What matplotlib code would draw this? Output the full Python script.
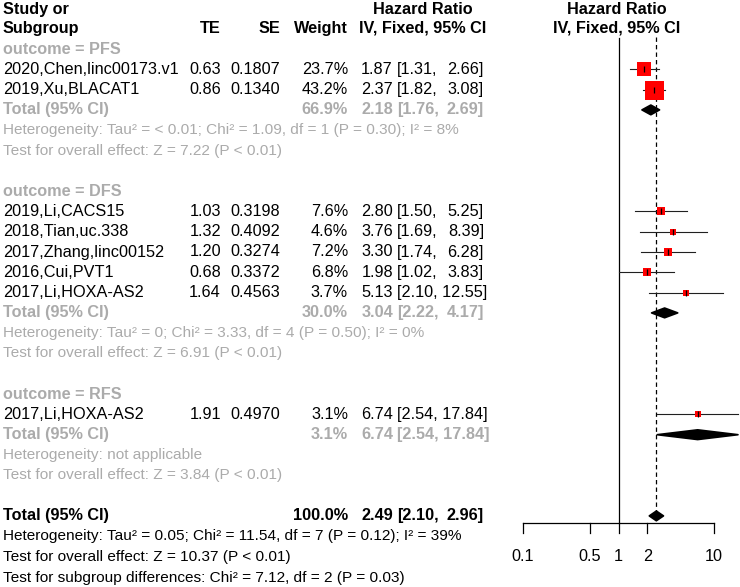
import numpy as np
import matplotlib
matplotlib.use("Agg")
import matplotlib.pyplot as plt

plt.rcParams['font.family'] = ['Liberation Sans', 'DejaVu Sans']

# study level data
studies = ["2020,Chen,linc00173.v1", "2019,Xu,BLACAT1", "2019,Li,CACS15", "2018,Tian,uc.338",
           "2017,Zhang,linc00152", "2016,Cui,PVT1", "2017,Li,HOXA-AS2", "2017,Li,HOXA-AS2"]
group = [0, 0, 1, 1, 1, 1, 1, 2]
te = [0.63, 0.86, 1.03, 1.32, 1.20, 0.68, 1.64, 1.91]
se = [0.1807, 0.1340, 0.3198, 0.4092, 0.3274, 0.3372, 0.4563, 0.4970]
weight = [23.7, 43.2, 7.6, 4.6, 7.2, 6.8, 3.7, 3.1]
hr = [1.87, 2.37, 2.80, 3.76, 3.30, 1.98, 5.13, 6.74]
hr_lo = [1.31, 1.82, 1.50, 1.69, 1.74, 1.02, 2.10, 2.54]
hr_hi = [2.66, 3.08, 5.25, 8.39, 6.28, 3.83, 12.55, 17.84]

# subgroups
sub_names = ["PFS", "DFS", "RFS"]
sub_weight = [66.9, 30.0, 3.1]
sub_hr = [2.18, 3.04, 6.74]
sub_lo = [1.76, 2.22, 2.54]
sub_hi = [2.69, 4.17, 17.84]
sub_het = ["Heterogeneity: Tau² = < 0.01; Chi² = 1.09, df = 1 (P = 0.30); I² = 8%",
           "Heterogeneity: Tau² = 0; Chi² = 3.33, df = 4 (P = 0.50); I² = 0%",
           "Heterogeneity: not applicable"]
sub_test = ["Test for overall effect: Z = 7.22 (P < 0.01)",
            "Test for overall effect: Z = 6.91 (P < 0.01)",
            "Test for overall effect: Z = 3.84 (P < 0.01)"]

# overall
tot_weight = 100.0
tot_hr, tot_lo, tot_hi = 2.49, 2.10, 2.96
tot_lines = ["Heterogeneity: Tau² = 0.05; Chi² = 11.54, df = 7 (P = 0.12); I² = 39%",
             "Test for overall effect: Z = 10.37 (P < 0.01)",
             "Test for subgroup differences: Chi² = 7.12, df = 2 (P = 0.03)"]

xticks = [0.1, 0.5, 1, 2, 10]
xticklabels = ["0.1", "0.5", "1", "2", "10"]

GREY = '#ababab'
FS = 11.7
FS2 = 11.1

# row layout
r = 0
study_row = {}
sub_row = {}
for g in range(3):
    sub_row[g] = r; r += 1
    for i in range(len(studies)):
        if group[i] == g:
            study_row[i] = r; r += 1
    r += 4  # total, het, test, blank
tot_row = r

fig = plt.figure(figsize=(7.4, 5.87), dpi=100)
ylim = ((587 - 49) / 20.3, -49 / 20.3)
tax = fig.add_axes([0, 0, 1, 1])
tax.set_xlim(0, 740); tax.set_ylim(*ylim); tax.axis('off')

# column positions (px)
X_STUDY, X_TE, X_SE, X_W, X_EST, X_LO, X_HI = 3, 221, 280, 348, 393, 397, 484

def hr_text(y, est, lo, hi, **kw):
    tax.text(X_EST, y, "%.2f" % est, ha='right', va='center', **kw)
    if hi >= 10:
        tax.text(X_LO, y, "[%.2f, %.2f]" % (lo, hi), ha='left', va='center', **kw)
    else:
        tax.text(X_LO, y, "[%.2f," % lo, ha='left', va='center', **kw)
        tax.text(X_HI, y, "%.2f]" % hi, ha='right', va='center', **kw)

# headers
bold = dict(fontsize=FS, fontweight='bold')
tax.text(X_STUDY, -1.97, "Study or", ha='left', va='center', **bold)
tax.text(X_STUDY, -1.03, "Subgroup", ha='left', va='center', **bold)
tax.text(X_TE, -1.03, "TE", ha='right', va='center', **bold)
tax.text(X_SE, -1.03, "SE", ha='right', va='center', **bold)
tax.text(X_W, -1.03, "Weight", ha='right', va='center', **bold)
tax.text(423, -1.97, "Hazard Ratio", ha='center', va='center', **bold)
tax.text(423, -1.03, "IV, Fixed, 95% CI", ha='center', va='center', **bold)
tax.text(617, -1.97, "Hazard Ratio", ha='center', va='center', **bold)
tax.text(617, -1.03, "IV, Fixed, 95% CI", ha='center', va='center', **bold)

for g in range(3):
    y0 = sub_row[g]
    tax.text(X_STUDY, y0, "outcome = " + sub_names[g], ha='left', va='center',
             color=GREY, **bold)
    last = max(study_row[i] for i in study_row if group[i] == g)
    yt = last + 1
    tax.text(X_STUDY, yt, "Total (95% CI)", ha='left', va='center', color=GREY, **bold)
    tax.text(X_W, yt, "%.1f%%" % sub_weight[g], ha='right', va='center', color=GREY, **bold)
    hr_text(yt, sub_hr[g], sub_lo[g], sub_hi[g], color=GREY, **bold)
    tax.text(X_STUDY, yt + 1, sub_het[g], ha='left', va='center', color=GREY, fontsize=FS2)
    tax.text(X_STUDY, yt + 2, sub_test[g], ha='left', va='center', color=GREY, fontsize=FS2)

for i, y in study_row.items():
    tax.text(X_STUDY, y, studies[i], ha='left', va='center', fontsize=FS)
    tax.text(X_TE, y, "%.2f" % te[i], ha='right', va='center', fontsize=FS)
    tax.text(X_SE, y, "%.4f" % se[i], ha='right', va='center', fontsize=FS)
    tax.text(X_W, y, "%.1f%%" % weight[i], ha='right', va='center', fontsize=FS)
    hr_text(y, hr[i], hr_lo[i], hr_hi[i], fontsize=FS)

tax.text(X_STUDY, tot_row, "Total (95% CI)", ha='left', va='center', **bold)
tax.text(X_W, tot_row, "%.1f%%" % tot_weight, ha='right', va='center', **bold)
hr_text(tot_row, tot_hr, tot_lo, tot_hi, **bold)
tax.text(X_STUDY, tot_row + 1, tot_lines[0], ha='left', va='center', fontsize=FS2)
tax.text(X_STUDY, tot_row + 2, tot_lines[1], ha='left', va='center', fontsize=FS2)
tax.text(X_STUDY, tot_row + 3.05, tot_lines[2], ha='left', va='center', fontsize=FS2)

# forest panel
fax = fig.add_axes([500 / 740, 0, 240 / 740, 1])
fax.set_xscale('log')
fax.set_xlim(10 ** (-1 - 23 / 95.5), 10 ** (1 + 26 / 95.5))
fax.set_ylim(*ylim)
fax.axis('off')

axis_y = tot_row + 0.35
fax.plot([1, 1], [-0.55, axis_y], color='black', lw=0.9)
fax.plot([tot_hr, tot_hr], [-0.6, tot_row - 0.2], color='black', lw=0.9, ls=(0, (3.5, 2.5)))
fax.plot([xticks[0], xticks[-1]], [axis_y, axis_y], color='black', lw=0.9)
for t, lab in zip(xticks, xticklabels):
    fax.plot([t, t], [axis_y, axis_y + 0.5], color='black', lw=0.9)
    fax.text(t, tot_row + 2.0, lab, ha='center', va='center', fontsize=FS)

for i, y in study_row.items():
    fax.plot([hr_lo[i], hr_hi[i]], [y, y], color='#202020', lw=0.8)
    side_pt = 19 * np.sqrt(weight[i] / 43.2) * 0.72
    fax.scatter([hr[i]], [y], marker='s', s=side_pt ** 2, color='red', lw=0, zorder=3)
    fax.plot([hr[i]], [y], marker='|', ms=4, color='black', mew=0.9, zorder=4)

def diamond(y, est, lo, hi, h=0.24):
    fax.fill([lo, est, hi, est], [y, y - h, y, y + h], facecolor='black',
             edgecolor='black', lw=1.2, joinstyle='round', zorder=3)

for g in range(3):
    last = max(study_row[i] for i in study_row if group[i] == g)
    diamond(last + 1, sub_hr[g], sub_lo[g], sub_hi[g])
diamond(tot_row, tot_hr, tot_lo, tot_hi)

fig.savefig("out.png", dpi=100)
